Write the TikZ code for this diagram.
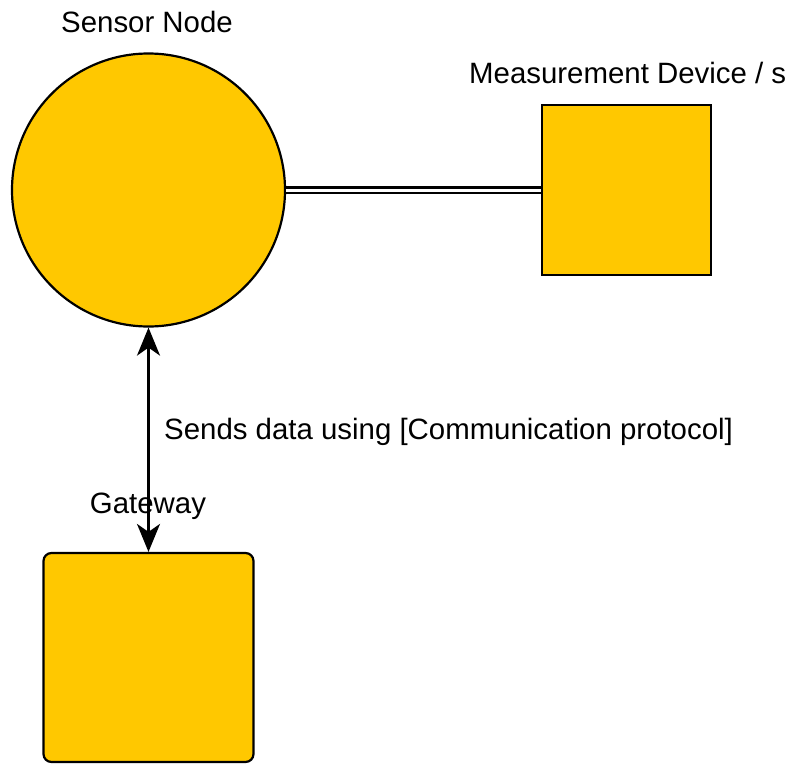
\documentclass[tikz,border=0pt]{standalone}
\usepackage{fontspec}
\setmainfont{Liberation Sans}
\usetikzlibrary{arrows.meta}
\definecolor{nodefill}{HTML}{FFC800}
\begin{document}
\begin{tikzpicture}[x=1pt,y=-1pt,
  >={Stealth[length=28pt,width=23pt,inset=8pt]},
  shapebox/.style={draw=black, fill=nodefill, line width=2.2pt, inner sep=0pt},
  lbl/.style={font=\fontsize{29.4}{33}\selectfont, inner sep=0pt, anchor=base},
  link/.style={line width=2.4pt, double=white, double distance=3pt},
  flow/.style={line width=2.4pt, <->}]
  \useasboundingbox (0,0) rectangle (787,763);

  % components
  \node[shapebox, circle, minimum size=273pt] (sensor) at (148.5,190) {};
  \node[shapebox, rectangle, minimum width=169pt, minimum height=170pt] (meas) at (626.5,190) {};
  \node[shapebox, rectangle, rounded corners=8pt, minimum width=210pt, minimum height=209pt] (gw) at (148.5,657.5) {};

  % labels
  \node[lbl] (sensorlbl) at (147,32) {Sensor Node};
  \node[lbl, anchor=base west] (measlbl) at (469,83) {Measurement Device / s};
  \node[lbl] (gwlbl) at (148,513) {Gateway};

  % connections
  \draw[link] (sensor) -- (meas);
  \draw[flow] (sensor.south) -- (gw.north);
  \node[lbl, anchor=base west] (protolbl) at (164,439) {Sends data using [Communication protocol]};
\end{tikzpicture}
\end{document}
